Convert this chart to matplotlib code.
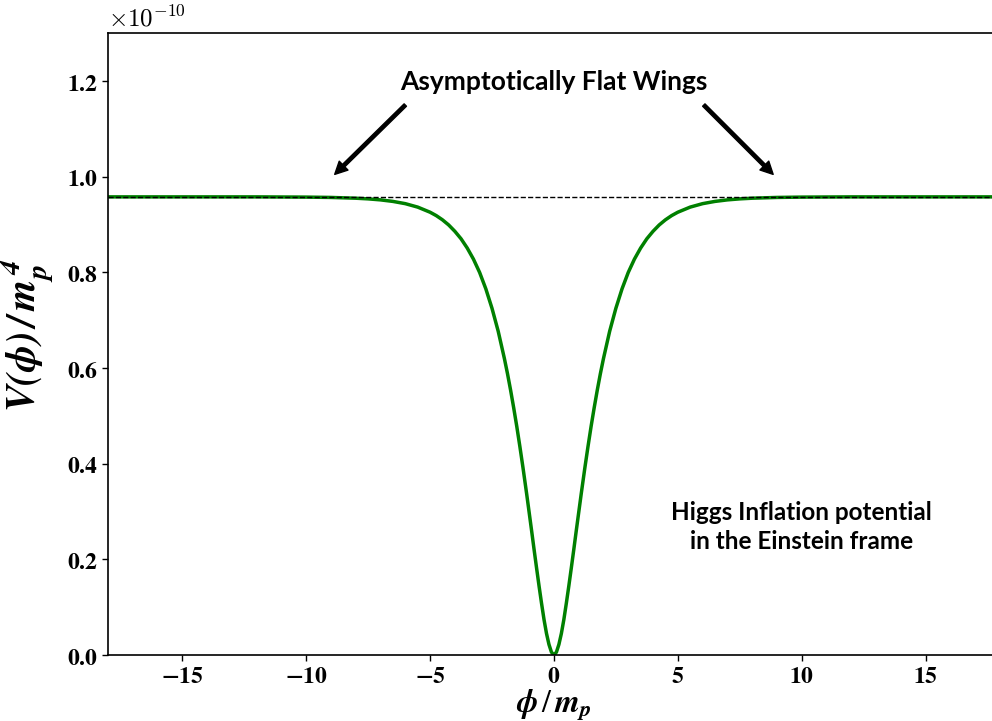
import numpy as np
import matplotlib
matplotlib.use('Agg')
import matplotlib.pyplot as plt
from matplotlib.ticker import FuncFormatter

plt.rcParams['mathtext.fontset'] = 'stix'

# potential, V in units of 1e-10 m_p^4
phi_left = [-18.0, -15.0, -12.0, -10.0, -9.0, -8.0, -7.5, -7.0, -6.5, -6.0, -5.5, -5.0,
            -4.75, -4.5, -4.25, -4.0, -3.75, -3.5, -3.25, -3.0, -2.75, -2.5, -2.25, -2.0,
            -1.875, -1.75, -1.625, -1.5, -1.375, -1.25, -1.1, -1.0, -0.9, -0.8, -0.7,
            -0.6, -0.5, -0.4, -0.3, -0.2, -0.1]
v_left = [0.958, 0.958, 0.958, 0.9575, 0.9568, 0.9552, 0.9538, 0.9517, 0.9485, 0.9438,
          0.9366, 0.9259, 0.9188, 0.910, 0.8993, 0.886, 0.8704, 0.851, 0.8279, 0.800,
          0.7658, 0.725, 0.6771, 0.620, 0.5884, 0.554, 0.5171, 0.478, 0.436, 0.392,
          0.3365, 0.298, 0.2594, 0.220, 0.1816, 0.144, 0.108, 0.074, 0.045, 0.022, 0.006]
phi_mid = [0.0]
v_mid = [0.0]
phi_right = [0.1, 0.2, 0.3, 0.4, 0.5, 0.6, 0.7, 0.8, 0.9, 1.0, 1.1, 1.25, 1.375, 1.5,
             1.625, 1.75, 1.875, 2.0, 2.25, 2.5, 2.75, 3.0, 3.25, 3.5, 3.75, 4.0, 4.25,
             4.5, 4.75, 5.0, 5.5, 6.0, 6.5, 7.0, 7.5, 8.0, 9.0, 10.0, 12.0, 15.0, 18.0]
v_right = [0.006, 0.022, 0.045, 0.074, 0.108, 0.144, 0.1816, 0.220, 0.2594, 0.298,
           0.3365, 0.392, 0.436, 0.478, 0.5171, 0.554, 0.5884, 0.620, 0.6771, 0.725,
           0.7658, 0.800, 0.8279, 0.851, 0.8704, 0.886, 0.8993, 0.910, 0.9188, 0.9259,
           0.9366, 0.9438, 0.9485, 0.9517, 0.9538, 0.9552, 0.9568, 0.9575, 0.958, 0.958,
           0.958]
v_plateau = 0.958

x_ticks = [-15, -10, -5, 0, 5, 10, 15]
y_ticks = [0.0, 0.2, 0.4, 0.6, 0.8, 1.0, 1.2]

phi = phi_left + phi_mid + phi_right
v = v_left + v_mid + v_right

fig = plt.figure(figsize=(9.92, 7.21), dpi=100)
ax = fig.add_axes([0.1089, 0.0915, 0.899, 0.8623])

ax.axhline(v_plateau, color='black', linestyle='--', linewidth=1.0, zorder=3)
ax.plot(phi, v, color='green', linewidth=2.5, zorder=2)

ax.set_xlim(-18, 18)
ax.set_ylim(0, 1.3)
ax.set_xticks(x_ticks)
ax.set_yticks(y_ticks)
ax.xaxis.set_major_formatter(FuncFormatter(lambda val, pos: r'$\mathbf{%d}$' % val if val >= 0 else r'$\mathbf{-%d}$' % -val))
ax.yaxis.set_major_formatter(FuncFormatter(lambda val, pos: r'$\mathbf{%.1f}$' % val))
ax.tick_params(labelsize=17, length=4, width=1.0)
ax.tick_params(axis='x', pad=2.5)
for s in ax.spines.values():
    s.set_linewidth(1.2)

ax.text(0.0, 1.003, r'$\times10^{-10}$', transform=ax.transAxes, fontsize=18,
        ha='left', va='bottom', math_fontfamily='cm')

ax.set_xlabel(r'$\mathbfit{\phi}\,/\,\mathbfit{m_p}$', fontsize=23, va='center')
ax.xaxis.set_label_coords(0.5, -0.080)
ax.set_ylabel(r'$\mathbfit{V(\phi)\,/\,m_p^{\,4}}$', fontsize=29)
ax.yaxis.set_label_coords(-0.058, 0.515)

ax.text(0.0, 1.198, 'Asymptotically Flat Wings', fontsize=19, fontweight='bold',
        family='Lato', ha='center', va='center')
arrow = dict(facecolor='black', edgecolor='black', width=2.4, headwidth=9, headlength=9)
ax.annotate('', xy=(-8.85, 1.005), xytext=(-6.0, 1.15), arrowprops=arrow)
ax.annotate('', xy=(8.85, 1.005), xytext=(6.05, 1.15), arrowprops=arrow)

ax.text(10.0, 0.268, 'Higgs Inflation potential\nin the Einstein frame', fontsize=17.5,
        fontweight='bold', family='Lato', ha='center', va='center', linespacing=1.35)

plt.savefig('out.png', dpi=100)
plt.close()
